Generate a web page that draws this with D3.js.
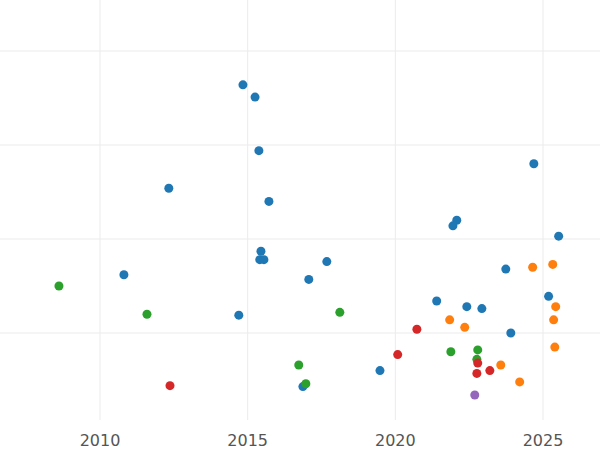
<!DOCTYPE html>
<html><head><meta charset="utf-8">
<script src="https://cdn.jsdelivr.net/npm/d3@7"></script>
<style>body{margin:0;background:#fff}</style>
</head><body>
<svg width="600" height="450"></svg>
<script>
const blueX = [2014.84,2015.25,2015.38,2012.33,2015.72,2024.69,2022.08,2021.95,2025.53,2015.45,2015.41,2015.55,2017.68,2010.81,2017.07,2023.74,2025.19,2021.40,2022.42,2022.93,2014.70,2023.91,2019.48,2016.87];
const blueY = [3.64,3.51,2.94,2.54,2.40,2.80,2.20,2.14,2.03,1.87,1.78,1.78,1.76,1.62,1.57,1.68,1.39,1.34,1.28,1.26,1.19,1.00,0.60,0.43];
const orangeX = [2024.65,2025.33,2025.43,2025.36,2025.40,2021.84,2022.35,2023.57,2024.21];
const orangeY = [1.70,1.73,1.28,1.14,0.85,1.14,1.06,0.66,0.48];
const greenX = [2008.61,2011.59,2018.12,2016.73,2016.97,2021.88,2022.79,2022.76];
const greenY = [1.50,1.20,1.22,0.66,0.46,0.80,0.82,0.72];
const redX = [2012.37,2020.73,2020.08,2022.79,2022.76,2023.20];
const redY = [0.44,1.04,0.77,0.68,0.57,0.60];
const purpleX = [2022.69];
const purpleY = [0.34];
const xTicks = [2010, 2015, 2020, 2025];
const yGrid = [1, 2, 3, 4];

const svg = d3.select("svg");
const x = d3.scaleLinear().domain([2010, 2025]).range([100, 543]);
const y = d3.scaleLinear().domain([0, 4]).range([427, 51]);
const bottom = 420;

svg.append("g").selectAll("line").data(yGrid).join("line")
  .attr("x1", 0).attr("x2", 600).attr("y1", d => y(d)).attr("y2", d => y(d))
  .attr("stroke", "#ebebeb");
svg.append("g").selectAll("line").data(xTicks).join("line")
  .attr("x1", d => x(d)).attr("x2", d => x(d)).attr("y1", 0).attr("y2", bottom)
  .attr("stroke", "#ebebeb");
svg.append("g").selectAll("text").data(xTicks).join("text")
  .attr("x", d => x(d)).attr("y", 446).attr("text-anchor", "middle")
  .attr("font-family", "DejaVu Sans").attr("font-size", 16).attr("fill", "#555")
  .text(d => d);

const series = [
  [blueX, blueY, "#1f77b4"],
  [orangeX, orangeY, "#ff7f0e"],
  [greenX, greenY, "#2ca02c"],
  [redX, redY, "#d62728"],
  [purpleX, purpleY, "#9467bd"]
];
series.forEach(([xs, ys, c]) => {
  svg.append("g").selectAll("circle").data(xs.map((v, i) => [v, ys[i]])).join("circle")
    .attr("cx", d => x(d[0])).attr("cy", d => y(d[1])).attr("r", 4.5).attr("fill", c);
});
</script>
</body></html>
